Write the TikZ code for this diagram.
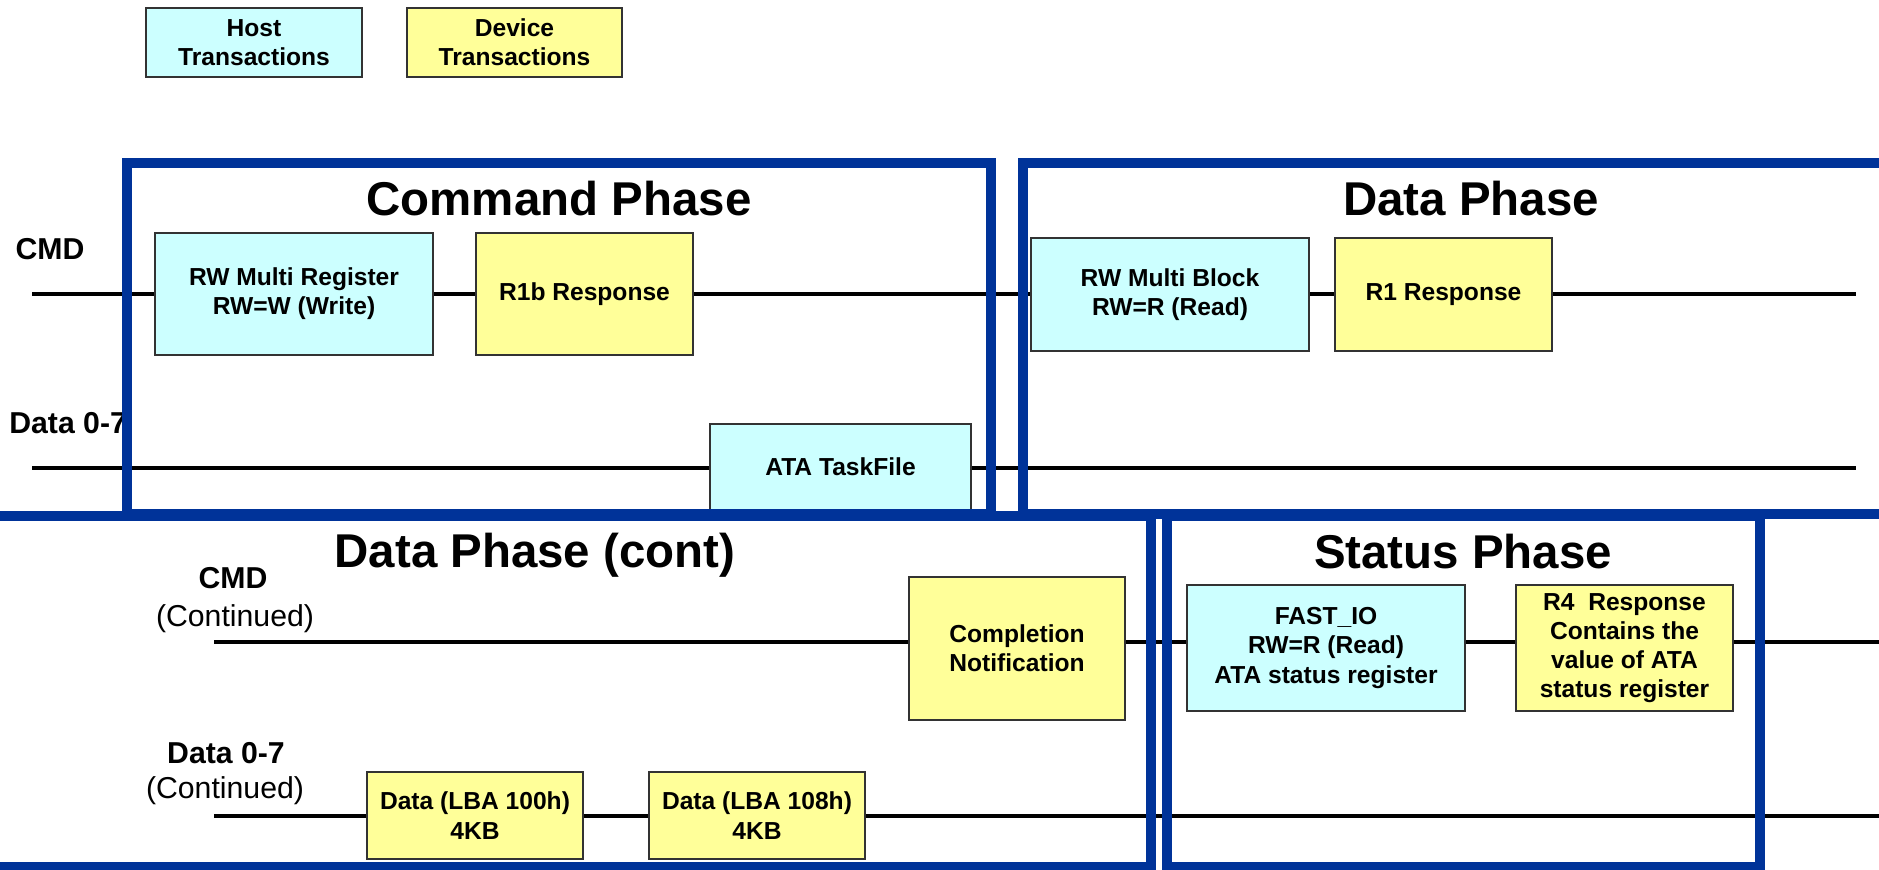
\documentclass[tikz,border=0pt]{standalone}
\usepackage{fontspec}
\setmainfont{Liberation Sans}
\usepackage{tikz}
\usetikzlibrary{positioning}
\definecolor{hostfill}{HTML}{CCFFFF}
\definecolor{devfill}{HTML}{FFFF99}
\definecolor{phaseblue}{HTML}{003399}
\tikzset{%
  host/.style = {rectangle,draw=black!80,fill=hostfill,line width=0.7pt,
        inner sep=0pt,align=center,
        font=\fontsize{14}{16.6}\selectfont\bfseries},
  dev/.style = {host,fill=devfill},
  wire/.style = {line width=2.2pt},
  phaseframe/.style = {draw=phaseblue,line width=5.7pt},
  phasetitle/.style = {anchor=base,inner sep=0pt,
        font=\fontsize{27}{32}\selectfont\bfseries},
  lane/.style = {anchor=base,inner sep=0pt,
        font=\fontsize{17.2}{20}\selectfont\bfseries},
  lanenote/.style = {anchor=base,inner sep=0pt,
        font=\fontsize{17.2}{20}\selectfont}
}
\begin{document}
\begin{tikzpicture}[x=0.02cm,y=-0.02cm]
                \useasboundingbox (0,0) rectangle (1879,869);
                \clip (0,0) rectangle (1879,869);

                \coordinate (cmdA) at (32,294);
                \coordinate (cmdB) at (1856,294);
                \coordinate (datA) at (32,468);
                \coordinate (datB) at (1856,468);
                \coordinate (cmdC) at (214,642);
                \coordinate (cmdD) at (1890,642);
                \coordinate (datC) at (214,816);
                \coordinate (datD) at (1890,816);

                \draw[wire] (cmdA) -- (cmdB);
                \draw[wire] (datA) -- (datB);
                \draw[wire] (cmdC) -- (cmdD);
                \draw[wire] (datC) -- (datD);

                \node[host, minimum width=4.32cm, minimum height=1.38cm] (hostkey) at (254,42.5) {Host\\Transactions};
                \node[dev, minimum width=4.30cm, minimum height=1.38cm] (devkey) at (514.5,42.5) {Device\\Transactions};

                \node[host, minimum width=5.56cm, minimum height=2.44cm] (mreg) at (294,294) {RW Multi Register\\RW=W (Write)};
                \node[dev, minimum width=4.34cm, minimum height=2.44cm] (r1b) at (584.5,294) {R1b Response};
                \node[host, minimum width=5.22cm, minimum height=1.72cm] (taskfile) at (840.5,467) {ATA TaskFile};
                \node[host, minimum width=5.56cm, minimum height=2.26cm] (mblk) at (1170,294.5) {RW Multi Block\\RW=R (Read)};
                \node[dev, minimum width=4.34cm, minimum height=2.26cm] (r1) at (1443.5,294.5) {R1 Response};

                \node[dev, minimum width=4.32cm, minimum height=2.86cm] (compl) at (1017,648.5) {Completion\\Notification};
                \node[dev, minimum width=4.32cm, minimum height=1.74cm] (lba100) at (475,815.5) {Data (LBA 100h)\\4KB};
                \node[dev, minimum width=4.32cm, minimum height=1.74cm] (lba108) at (757,815.5) {Data (LBA 108h)\\4KB};
                \node[host, minimum width=5.56cm, minimum height=2.52cm] (fastio) at (1326,648) {FAST\_IO\\RW=R (Read)\\ATA status register};
                \node[dev, minimum width=4.34cm, minimum height=2.52cm] (r4) at (1624.5,648) {R4\ \ Response\\Contains the\\value of ATA\\status register};

                \node[lane] (cmdtop) at (50,259) {CMD};
                \node[lane, anchor=base west] (datatop) at (9,433) {Data 0-7};
                \node[lane] (cmdlow) at (233,588) {CMD};
                \node[lanenote] (cmdlownote) at (235,626) {(Continued)};
                \node[lane] (datalow) at (226,763) {Data 0-7};
                \node[lanenote] (datalownote) at (225,798) {(Continued)};

                \draw[phaseframe] (127,163) rectangle (991,514);
                \draw[phaseframe] (1023,163) rectangle (1900,514);
                \draw[phaseframe] (-20,516) rectangle (1151,867);
                \draw[phaseframe] (1167,516) rectangle (1760,867);

                \node[phasetitle] (cmdphase) at (559,215) {Command Phase};
                \node[phasetitle] (dataphase) at (1471,215) {Data Phase};
                \node[phasetitle] (contphase) at (535,567) {Data Phase (cont)};
                \node[phasetitle] (statphase) at (1463,568) {Status Phase};
            \end{tikzpicture}
\end{document}
